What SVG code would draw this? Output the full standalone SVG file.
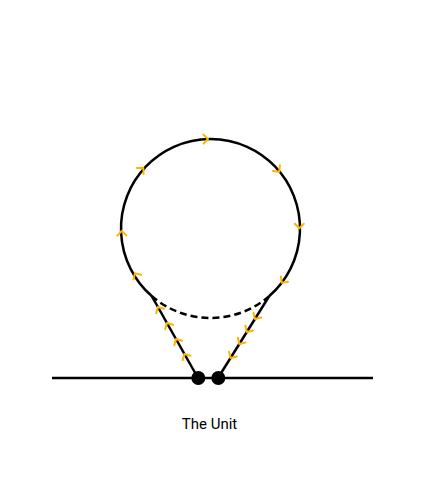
<svg xmlns="http://www.w3.org/2000/svg" width="424" height="499" viewBox="0 0 424 499">
  <defs>
    <style>
      .ln { fill: none; stroke: #000; stroke-width: 2.5; }
      .dash { fill: none; stroke: #000; stroke-width: 2.5; stroke-dasharray: 7 4; }
      .chev { fill: none; stroke: #FFB300; stroke-width: 2; stroke-linecap: round; stroke-linejoin: round; }
      .dot { fill: #000; }
      .lbl { font-family: Roboto, "Liberation Sans", sans-serif; font-size: 15px; fill: #000; }
    </style>
    <path id="chev" class="chev" d="M-4.5,-4.5 L0,0 L-4.5,4.5"/>
  </defs>
  <rect width="424" height="499" fill="#fff"/>
  <g id="connectors">
    <line class="ln" x1="52" y1="378" x2="373" y2="378"/>
    <path class="ln" d="M151.7,296 A89.5,89.5 0 1 1 269.3,296"/>
    <path class="dash" d="M151.7,296 A89.5,89.5 0 0 0 269.3,296"/>
    <line class="ln" x1="198" y1="378" x2="151.7" y2="296"/>
    <line class="ln" x1="218" y1="378" x2="269.3" y2="296"/>
  </g>
  <g id="flow-arrows">
    <use href="#chev" transform="translate(143.3,167.7) rotate(-47.9)"/>
    <use href="#chev" transform="translate(208,139) rotate(-1.6)"/>
    <use href="#chev" transform="translate(279.3,171.7) rotate(50.5)"/>
    <use href="#chev" transform="translate(299.3,228.3) rotate(90)"/>
    <use href="#chev" transform="translate(281.7,282.7) rotate(127.3)"/>
    <use href="#chev" transform="translate(135,273.3) rotate(239.3)"/>
    <use href="#chev" transform="translate(121.7,231) rotate(268.4)"/>
    <use href="#chev" transform="translate(157.9,307) rotate(240.5)"/>
    <use href="#chev" transform="translate(166.9,323) rotate(240.5)"/>
    <use href="#chev" transform="translate(176,339) rotate(240.5)"/>
    <use href="#chev" transform="translate(184.4,354) rotate(240.5)"/>
    <use href="#chev" transform="translate(254.9,319) rotate(122)"/>
    <use href="#chev" transform="translate(246.8,332) rotate(122)"/>
    <use href="#chev" transform="translate(239.3,344) rotate(122)"/>
    <use href="#chev" transform="translate(230.5,358) rotate(122)"/>
  </g>
  <g id="node-left">
    <circle class="dot" cx="198.3" cy="378" r="7"/>
  </g>
  <g id="node-right">
    <circle class="dot" cx="218.3" cy="378" r="7"/>
  </g>
  <g id="label">
    <text class="lbl" x="209.5" y="429" text-anchor="middle">The Unit</text>
  </g>
</svg>
